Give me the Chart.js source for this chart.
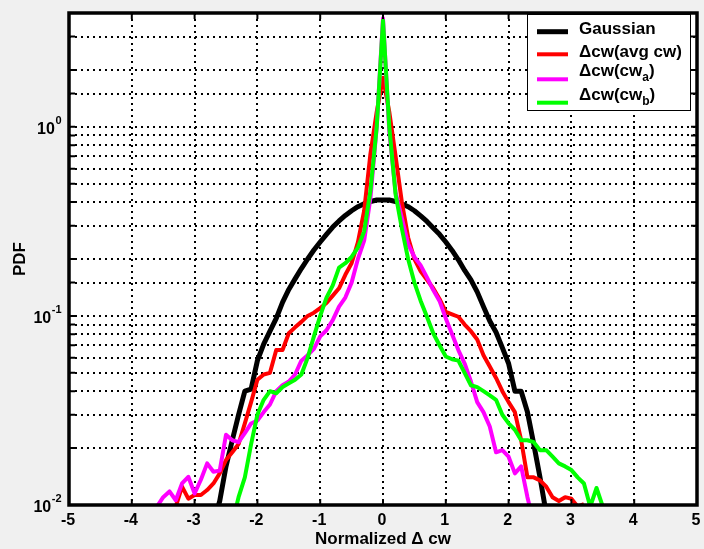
<!DOCTYPE html>
<html>
<head>
<meta charset="utf-8">
<script src="https://cdn.jsdelivr.net/npm/chart.js@4.4.1/dist/chart.umd.min.js"></script>
<style>
  html, body { margin: 0; padding: 0; background: #f0f0f0; }
  #wrap { width: 704px; height: 549px; }
</style>
</head>
<body>
<div id="wrap"><canvas id="pdfChart" width="704" height="549"></canvas></div>
<script>
// 凡例ラベル（_x は下付き文字）
const seriesLabels = ['Gaussian', 'Δcw(avg cw)', 'Δcw(cw_a)', 'Δcw(cw_b)'];
const seriesColors = ['#000000', '#ff0000', '#ff00ff', '#00ff00'];

// Gaussian
const gaussX = [-2.7, -2.6, -2.5, -2.4, -2.3, -2.2, -2.1, -2.0, -1.9, -1.8, -1.7, -1.6, -1.5, -1.4, -1.3, -1.2, -1.1, -1.0,
  -0.9, -0.8, -0.7, -0.6, -0.5, -0.4, -0.3, -0.2, -0.1, 0.0, 0.1, 0.2, 0.3, 0.4, 0.5, 0.6, 0.7, 0.8, 0.9, 1.0,
  1.1, 1.2, 1.3, 1.4, 1.5, 1.6, 1.7, 1.8, 1.9, 2.0, 2.1, 2.2, 2.3, 2.4, 2.5, 2.6];
const gaussY = [0.008, 0.0105, 0.016, 0.022, 0.03, 0.04, 0.041, 0.058, 0.071, 0.083, 0.097, 0.118, 0.138, 0.157, 0.178, 0.2, 0.223, 0.246,
  0.27, 0.295, 0.318, 0.34, 0.36, 0.378, 0.392, 0.403, 0.41, 0.41, 0.41, 0.403, 0.392, 0.378, 0.36, 0.338, 0.316, 0.292, 0.27, 0.246,
  0.222, 0.198, 0.174, 0.155, 0.134, 0.112, 0.094, 0.082, 0.068, 0.056, 0.04, 0.04, 0.031, 0.021, 0.014, 0.009];

// Δcw(avg cw)
const avgX = [-3.3, -3.2, -3.1, -3.0, -2.9, -2.8, -2.7, -2.6, -2.5, -2.4, -2.3, -2.2, -2.1, -2.0, -1.9, -1.8, -1.7, -1.6, -1.5, -1.4,
  -1.3, -1.2, -1.1, -1.0, -0.9, -0.8, -0.7, -0.6, -0.5, -0.4, -0.3, -0.2, -0.1, 0.0, 0.1, 0.2, 0.3, 0.4, 0.5, 0.6,
  0.7, 0.8, 0.9, 1.0, 1.1, 1.2, 1.3, 1.4, 1.5, 1.6, 1.7, 1.8, 1.9, 2.0, 2.1, 2.2, 2.3, 2.4, 2.5, 2.6,
  2.7, 2.8, 2.9, 3.0, 3.1, 3.2];
const avgY = [0.0098, 0.0125, 0.0108, 0.0113, 0.0113, 0.012, 0.013, 0.0147, 0.0173, 0.019, 0.021, 0.027, 0.035, 0.046, 0.049, 0.05, 0.066, 0.066, 0.081, 0.087,
  0.093, 0.1, 0.104, 0.11, 0.117, 0.128, 0.14, 0.165, 0.19, 0.245, 0.36, 0.72, 1.2, 1.82, 1.2, 0.7, 0.4, 0.26, 0.2, 0.172,
  0.155, 0.14, 0.123, 0.105, 0.102, 0.099, 0.09, 0.083, 0.075, 0.062, 0.054, 0.047, 0.04, 0.035, 0.031, 0.022, 0.014, 0.014, 0.0135, 0.0125,
  0.011, 0.0105, 0.011, 0.0108, 0.0098, 0.0101];

// Δcw(cw_a)
const cwaX = [-3.6, -3.5, -3.4, -3.3, -3.2, -3.1, -3.0, -2.9, -2.8, -2.7, -2.6, -2.5, -2.4, -2.3, -2.2, -2.1, -2.0, -1.9, -1.8, -1.7,
  -1.6, -1.5, -1.4, -1.3, -1.2, -1.1, -1.0, -0.9, -0.8, -0.7, -0.6, -0.5, -0.4, -0.3, -0.2, -0.1, 0.0, 0.1, 0.2, 0.3,
  0.4, 0.5, 0.6, 0.7, 0.8, 0.9, 1.0, 1.1, 1.2, 1.3, 1.4, 1.5, 1.6, 1.7, 1.8, 1.9, 2.0, 2.1, 2.2, 2.3, 2.4];
const cwaY = [0.0098, 0.011, 0.0118, 0.0106, 0.013, 0.0141, 0.0115, 0.0136, 0.0166, 0.015, 0.0152, 0.0235, 0.022, 0.0215, 0.024, 0.027, 0.028, 0.031, 0.034, 0.04,
  0.043, 0.045, 0.049, 0.058, 0.062, 0.067, 0.078, 0.084, 0.095, 0.112, 0.125, 0.15, 0.2, 0.25, 0.42, 1.0, 3.75, 0.95, 0.45, 0.33,
  0.24, 0.205, 0.185, 0.16, 0.137, 0.12, 0.097, 0.08, 0.066, 0.056, 0.045, 0.035, 0.031, 0.026, 0.019, 0.0195, 0.018, 0.0147, 0.016, 0.011, 0.008];

// Δcw(cw_b)
const cwbX = [-2.4, -2.3, -2.2, -2.1, -2.0, -1.9, -1.8, -1.7, -1.6, -1.5, -1.4, -1.3, -1.2, -1.1, -1.0, -0.9, -0.8, -0.7, -0.6, -0.5,
  -0.4, -0.3, -0.2, -0.1, 0.0, 0.1, 0.2, 0.3, 0.4, 0.5, 0.6, 0.7, 0.8, 0.9, 1.0, 1.1, 1.2, 1.3, 1.4, 1.5,
  1.6, 1.7, 1.8, 1.9, 2.0, 2.1, 2.2, 2.3, 2.4, 2.5, 2.6, 2.7, 2.8, 2.9, 3.0, 3.1, 3.2, 3.3, 3.4, 3.5, 3.6];
const cwbY = [0.008, 0.011, 0.014, 0.021, 0.03, 0.036, 0.04, 0.039, 0.042, 0.044, 0.046, 0.049, 0.06, 0.078, 0.1, 0.125, 0.145, 0.18, 0.19, 0.205,
  0.23, 0.28, 0.46, 1.0, 3.65, 1.0, 0.44, 0.29, 0.2, 0.15, 0.12, 0.099, 0.081, 0.07, 0.061, 0.059, 0.058, 0.05, 0.043, 0.042,
  0.04, 0.038, 0.036, 0.03, 0.027, 0.025, 0.022, 0.022, 0.0215, 0.0195, 0.0195, 0.018, 0.0166, 0.016, 0.0153, 0.014, 0.013, 0.0098, 0.0123, 0.0098, 0.008];

// 軸の目盛りラベル
const yTickValues = [0.01, 0.1, 1];
const yTickExps = ['-2', '-1', '0'];
const xTitle = 'Normalized Δ cw';
const yTitle = 'PDF';

const FONT = '"Liberation Sans", Arial, sans-serif';

function toPoints(xs, ys) {
  return xs.map((v, i) => ({ x: v, y: ys[i] }));
}

// "_x" を下付き文字として描く
function drawRichText(ctx, text, x, y, size) {
  const parts = text.split(/(_.)/);
  let cx = x;
  parts.forEach(p => {
    if (!p) return;
    if (p[0] === '_') {
      ctx.font = 'bold ' + Math.round(size * 0.7) + 'px ' + FONT;
      ctx.fillText(p[1], cx, y + size * 0.38);
      cx += ctx.measureText(p[1]).width;
    } else {
      ctx.font = 'bold ' + size + 'px ' + FONT;
      ctx.fillText(p, cx, y);
      cx += ctx.measureText(p).width;
    }
  });
}

const decorations = {
  id: 'decorations',
  beforeDraw(chart) {
    const { ctx, chartArea: a } = chart;
    ctx.save();
    ctx.fillStyle = '#f0f0f0';
    ctx.fillRect(0, 0, chart.width, chart.height);
    ctx.fillStyle = '#ffffff';
    ctx.fillRect(a.left, a.top, a.right - a.left, a.bottom - a.top);
    ctx.restore();
  },
  afterDraw(chart) {
    const { ctx, chartArea: a, scales: { x, y } } = chart;
    ctx.save();
    ctx.strokeStyle = '#000';
    ctx.fillStyle = '#000';

    // 内向きの目盛り
    ctx.lineWidth = 2;
    ctx.beginPath();
    x.ticks.forEach(t => {
      const px = x.getPixelForValue(t.value);
      ctx.moveTo(px, a.bottom); ctx.lineTo(px, a.bottom - 6);
      ctx.moveTo(px, a.top); ctx.lineTo(px, a.top + 6);
    });
    y.ticks.forEach(t => {
      const py = y.getPixelForValue(t.value);
      ctx.moveTo(a.left, py); ctx.lineTo(a.left + 6, py);
      ctx.moveTo(a.right, py); ctx.lineTo(a.right - 6, py);
    });
    ctx.stroke();

    // 枠線
    ctx.lineWidth = 3.5;
    ctx.strokeRect(a.left, a.top, a.right - a.left, a.bottom - a.top);

    // X軸ラベル
    ctx.font = 'bold 16px ' + FONT;
    ctx.textAlign = 'center';
    ctx.textBaseline = 'middle';
    x.ticks.forEach(t => {
      const px = x.getPixelForValue(t.value);
      ctx.fillText(String(t.value), px - 1, a.bottom + 16);
    });

    // Y軸ラベル 10^n
    ctx.textAlign = 'left';
    yTickValues.forEach((v, i) => {
      const py = y.getPixelForValue(v);
      ctx.font = 'bold 16px ' + FONT;
      const w1 = ctx.measureText('10').width;
      ctx.font = 'bold 11px ' + FONT;
      const w2 = ctx.measureText(yTickExps[i]).width;
      const x0 = a.left - 8 - w1 - w2;
      ctx.font = 'bold 16px ' + FONT;
      ctx.fillText('10', x0, py + 3);
      ctx.font = 'bold 11px ' + FONT;
      ctx.fillText(yTickExps[i], x0 + w1 + 0.5, py - 6);
    });

    // 軸タイトル
    ctx.font = 'bold 17px ' + FONT;
    ctx.textAlign = 'center';
    ctx.fillText(xTitle, (a.left + a.right) / 2, 539);
    ctx.save();
    ctx.translate(20, (a.top + a.bottom) / 2);
    ctx.rotate(-Math.PI / 2);
    ctx.fillText(yTitle, 0, 0);
    ctx.restore();

    // 凡例
    const bx = 527.5, by = 14.5, bw = 163, bh = 96;
    ctx.fillStyle = '#fff';
    ctx.fillRect(bx, by, bw, bh);
    ctx.lineWidth = 1;
    ctx.strokeStyle = '#000';
    ctx.strokeRect(bx, by, bw, bh);
    const lineYs = [31.7, 54.3, 79.3, 102.7];
    const textYs = [29.5, 52, 71, 95];
    ctx.textAlign = 'left';
    seriesLabels.forEach((lab, i) => {
      ctx.strokeStyle = seriesColors[i];
      ctx.lineWidth = i === 0 ? 5 : 4;
      ctx.beginPath();
      ctx.moveTo(537, lineYs[i]);
      ctx.lineTo(568, lineYs[i]);
      ctx.stroke();
      ctx.fillStyle = '#000';
      drawRichText(ctx, lab, 579, textYs[i], 17);
    });
    ctx.restore();
  }
};

function makeDataset(i, xs, ys, width, order) {
  return {
    label: seriesLabels[i],
    data: toPoints(xs, ys),
    borderColor: seriesColors[i],
    backgroundColor: seriesColors[i],
    borderWidth: width,
    pointRadius: 0,
    tension: 0,
    borderJoinStyle: 'round',
    order: order
  };
}

new Chart(document.getElementById('pdfChart').getContext('2d'), {
  type: 'line',
  data: {
    datasets: [
      makeDataset(0, gaussX, gaussY, 5, 4),
      makeDataset(1, avgX, avgY, 4, 3),
      makeDataset(2, cwaX, cwaY, 4, 2),
      makeDataset(3, cwbX, cwbY, 4, 1)
    ]
  },
  options: {
    responsive: false,
    animation: false,
    layout: { padding: { top: 13, right: 7, left: 0, bottom: 0 } },
    plugins: { legend: { display: false }, tooltip: { enabled: false } },
    scales: {
      x: {
        type: 'linear',
        min: -5,
        max: 5,
        afterFit(scale) { scale.height = 44; scale.paddingLeft = 0; scale.paddingRight = 0; },
        ticks: { stepSize: 1, display: false },
        grid: { color: '#000', lineWidth: 2, drawTicks: false },
        border: { display: false, dash: [2, 4] }
      },
      y: {
        type: 'logarithmic',
        min: 0.01,
        max: 4,
        afterFit(scale) { scale.width = 69; },
        ticks: { display: false, autoSkip: false },
        grid: { color: '#000', lineWidth: 2, drawTicks: false },
        border: { display: false, dash: [2, 4] }
      }
    }
  },
  plugins: [decorations]
});
</script>
</body>
</html>
